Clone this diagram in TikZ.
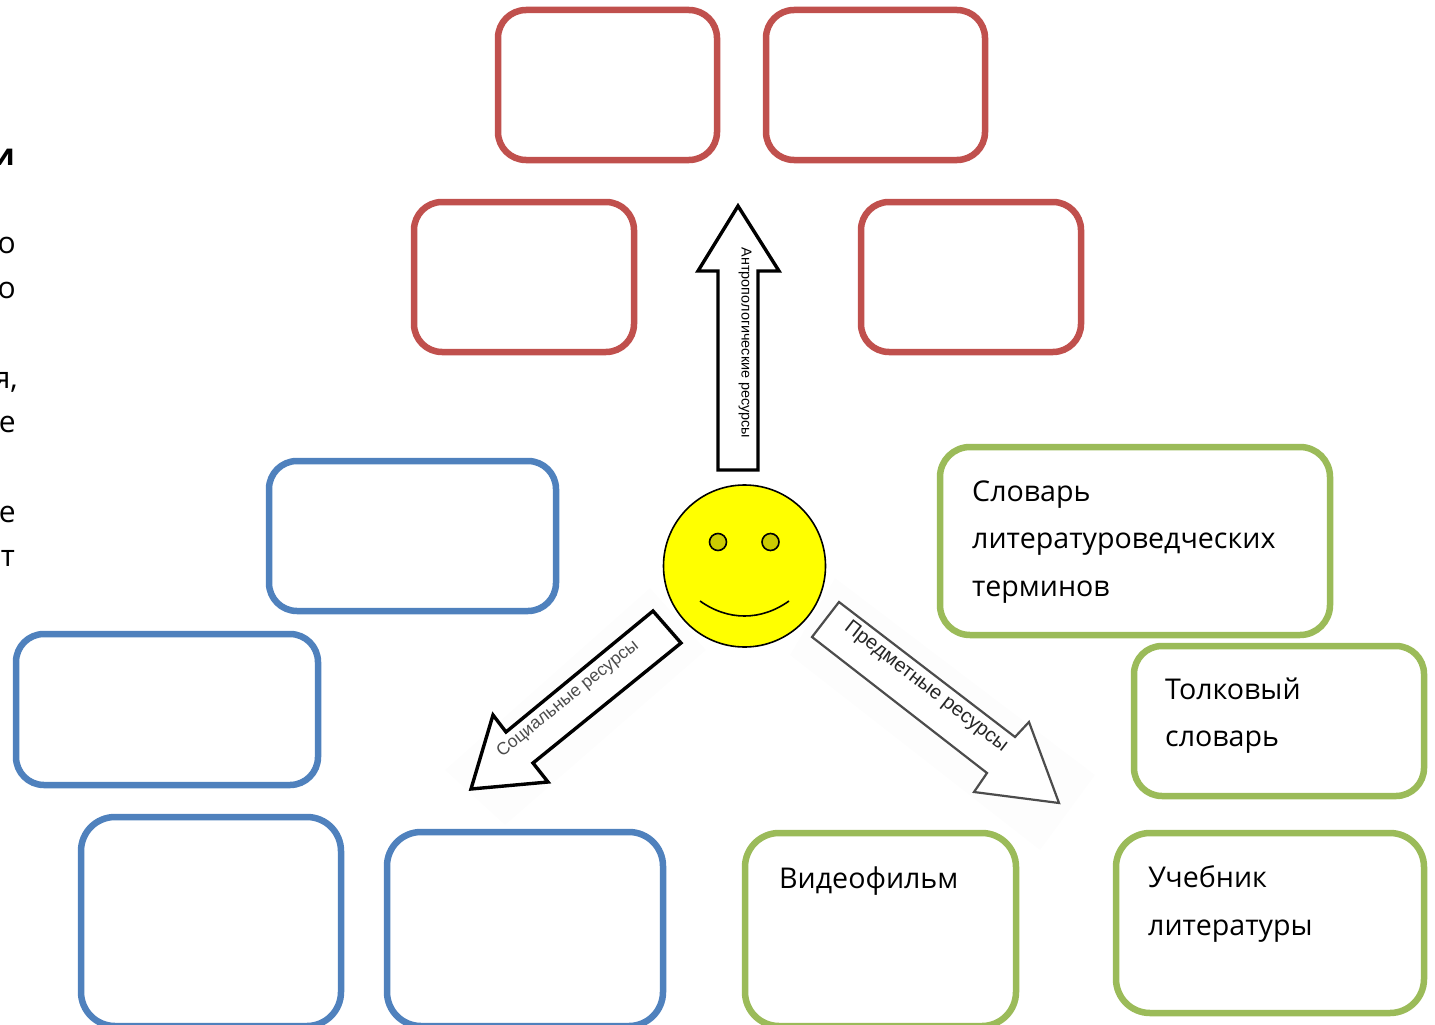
\documentclass[tikz,border=0pt]{standalone}
\usepackage{fontspec}
\setmainfont{Open Sans}
\newfontfamily\labelfont{Liberation Sans}
\definecolor{boxred}{HTML}{C0504D}
\definecolor{boxblue}{HTML}{4F81BD}
\definecolor{boxgreen}{HTML}{9BBB59}
\definecolor{eye}{HTML}{CCCC00}
\definecolor{faceyellow}{HTML}{FFFF00}
\definecolor{halo}{HTML}{FDFDFD}
\tikzset{
  x=1pt,y=-1pt,
  box/.style={draw,line width=6.5pt,rounded corners=28pt,fill=white},
  redbox/.style={box,draw=boxred},
  bluebox/.style={box,draw=boxblue},
  greenbox/.style={box,draw=boxgreen},
  tallbox/.style={rounded corners=34pt},
  boxtext/.style={anchor=base west,inner sep=0pt,font=\fontsize{28.6}{28.6}\selectfont},
  cuttext/.style={anchor=base east,inner sep=0pt,font=\fontsize{30}{30}\selectfont},
  arrowlabel/.style={inner sep=0pt,font=\labelfont\fontsize{14.4}{14.4}\selectfont},
  bigarrow/.style={draw=black,line width=3.4pt,line join=miter,fill=white},
  facepart/.style={draw=black,line width=1.6pt},
}
\begin{document}
\begin{tikzpicture}
\clip (0,0) rectangle (1435,1025);
% faint backgrounds of the slanted arrows
\fill[halo] (650,588) -- (706,650) -- (505,825) -- (445,770) -- cycle;
\fill[halo] (835,578) -- (1095,775) -- (1040,850) -- (790,655) -- cycle;
% clipped text at the left edge
\node[cuttext,font=\bfseries\fontsize{30}{30}\selectfont] (c1) at (15,165) {и};
\node[cuttext] (c2) at (16,253) {о};
\node[cuttext] (c3) at (16,298) {о};
\node[cuttext] (c4) at (18,388) {я,};
\node[cuttext] (c5) at (16,432) {е};
\node[cuttext] (c6) at (16,522) {е};
\node[cuttext] (c7) at (15,566) {т};
% red boxes
\draw[redbox] (498,10) rectangle (717,160);
\draw[redbox] (766,10) rectangle (985,160);
\draw[redbox] (414,202) rectangle (634,352);
\draw[redbox] (861,202) rectangle (1081,352);
% blue boxes
\draw[bluebox] (269,461) rectangle (556,611);
\draw[bluebox] (16,634) rectangle (318,785);
\draw[bluebox,tallbox] (81,817) rectangle (341,1026);
\draw[bluebox,tallbox] (387,832) rectangle (663,1026);
% green boxes
\draw[greenbox,rounded corners=30pt] (940,447) rectangle (1330,635);
\draw[greenbox] (1134,646) rectangle (1424,796);
\draw[greenbox,tallbox] (745,833) rectangle (1016,1026);
\draw[greenbox,tallbox] (1116,833) rectangle (1424,1013);
\node[boxtext] (t1) at (972,501) {Словарь};
\node[boxtext] (t2) at (972,548) {литературоведческих};
\node[boxtext] (t3) at (972,596) {терминов};
\node[boxtext] (t4) at (1165,699) {Толковый};
\node[boxtext] (t5) at (1165,746) {словарь};
\node[boxtext] (t6) at (779,888) {Видеофильм};
\node[boxtext] (t7) at (1148,887) {Учебник};
\node[boxtext] (t8) at (1148,935) {литературы};
% arrows
\draw[bigarrow] (738,206) -- (779,271) -- (758,271) -- (758,470) -- (718,470) -- (718,271) -- (698,271) -- cycle;
\node[arrowlabel,rotate=-90] (a1) at (745,343) {Антропологические ресурсы};
\draw[bigarrow] (653,611) -- (681,643) -- (533,763) -- (548,782) -- (471,789) -- (493,715) -- (506,732) -- cycle;
\node[arrowlabel,rotate=38.7,text=black!70,font=\labelfont\fontsize{17.5}{17.5}\selectfont] (a2) at (568,699) {Социальные ресурсы};
\draw[bigarrow,draw=black!70,line width=2.2pt] (839,602) -- (812,637) -- (987,773) -- (974,792) -- (1059,803) -- (1029,722) -- (1015,737) -- cycle;
\node[arrowlabel,rotate=-37.7,text=black!85,font=\labelfont\fontsize{20}{20}\selectfont] (a3) at (926,687) {Предметные ресурсы};
% face
\draw[facepart,fill=faceyellow] (744.5,566) circle (81);
\draw[facepart,fill=eye] (718,542) circle (8.5);
\draw[facepart,fill=eye] (770.5,542) circle (8.5);
\draw[facepart] (700,601) .. controls (728,621) and (761,621) .. (789,601);
\end{tikzpicture}
\end{document}
